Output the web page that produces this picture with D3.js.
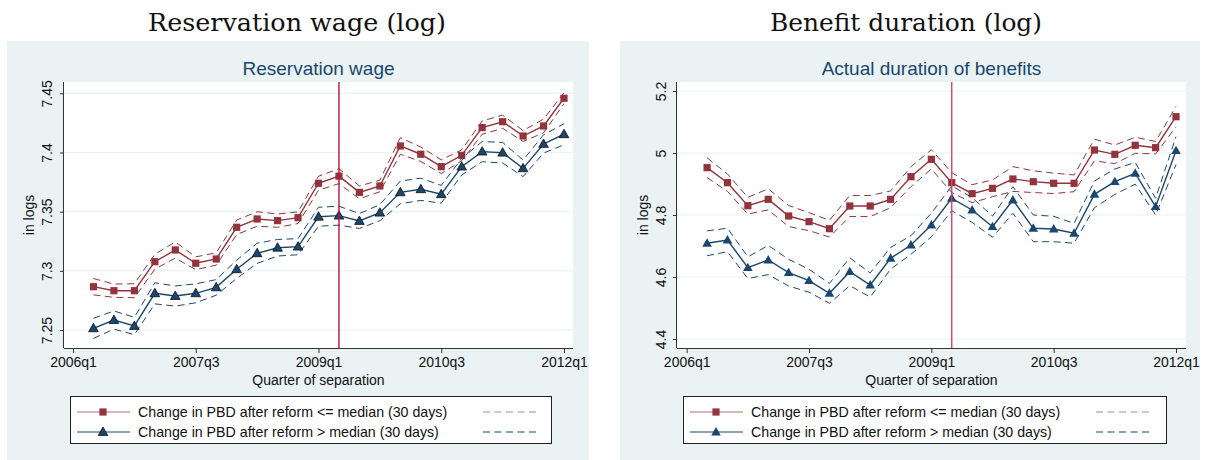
<!DOCTYPE html>
<html>
<head>
<meta charset="utf-8">
<script src="https://cdn.jsdelivr.net/npm/d3@7"></script>
<style>
  body { margin: 0; background: #fff; }
  svg { display: block; }
  text { font-family: "Liberation Sans", Arial, sans-serif; }
</style>
</head>
<body>
<svg id="chart" width="1207" height="460"></svg>
<script>
// quarters of separation (one point each)
const quarters = ["2006q2", "2006q3", "2006q4", "2007q1", "2007q2", "2007q3", "2007q4", "2008q1",
    "2008q2", "2008q3", "2008q4", "2009q1", "2009q2", "2009q3", "2009q4", "2010q1",
    "2010q2", "2010q3", "2010q4", "2011q1", "2011q2", "2011q3", "2011q4", "2012q1"];
const xTickLabels = ["2006q1", "2007q3", "2009q1", "2010q3", "2012q1"];
const reformQuarter = "2009q2";

const legendLabels = ["Change in PBD after reform <= median (30 days)", "Change in PBD after reform > median (30 days)"];

// Reservation wage (log)
const wageLow = [7.2866, 7.2832, 7.2832, 7.3077, 7.3176, 7.3064, 7.3100, 7.3368, 7.3438, 7.3424, 7.3449, 7.3740,
    7.3800, 7.3663, 7.3717, 7.4055, 7.3985, 7.3880, 7.3976, 7.4210, 7.4260, 7.4139, 7.4224, 7.4458];
const wageLowCI = [0.0069, 0.0056, 0.0059, 0.0063, 0.0068, 0.0054, 0.0052, 0.0061, 0.0061, 0.0056, 0.0049, 0.0059,
    0.0063, 0.0054, 0.0049, 0.0070, 0.0061, 0.0058, 0.0046, 0.0056, 0.0056, 0.0046, 0.0058, 0.0046];
const wageHigh = [7.2514, 7.2584, 7.2534, 7.2810, 7.2787, 7.2810, 7.2860, 7.3013, 7.3148, 7.3195, 7.3204, 7.3457,
    7.3466, 7.3421, 7.3491, 7.3663, 7.3689, 7.3647, 7.3880, 7.4007, 7.3998, 7.3866, 7.4072, 7.4154];
const wageHighCI = [0.0085, 0.0077, 0.0073, 0.0089, 0.0085, 0.0080, 0.0066, 0.0077, 0.0085, 0.0070, 0.0068, 0.0080,
    0.0080, 0.0063, 0.0068, 0.0096, 0.0094, 0.0075, 0.0070, 0.0085, 0.0087, 0.0070, 0.0077, 0.0089];
const wageTicks = [7.25, 7.3, 7.35, 7.4, 7.45];

// Benefit duration (log)
const durLow = [4.9527, 4.9043, 4.8300, 4.8505, 4.7968, 4.7785, 4.7559, 4.8290, 4.8290, 4.8505, 4.9236, 4.9796,
    4.9043, 4.8688, 4.8860, 4.9161, 4.9075, 4.9022, 4.9022, 5.0097, 4.9957, 5.0248, 5.0172, 5.1171];
const durLowCI = [0.032, 0.028, 0.027, 0.034, 0.034, 0.029, 0.027, 0.034, 0.034, 0.027, 0.032, 0.031,
    0.032, 0.029, 0.027, 0.040, 0.035, 0.033, 0.027, 0.035, 0.030, 0.026, 0.020, 0.033];
const durHigh = [4.7087, 4.7194, 4.6300, 4.6548, 4.6139, 4.5880, 4.5473, 4.6171, 4.5742, 4.6603, 4.7032, 4.7677,
    4.8538, 4.8161, 4.7623, 4.8484, 4.7571, 4.7548, 4.7410, 4.8667, 4.9075, 4.9344, 4.8269, 5.0075];
const durHighCI = [0.040, 0.038, 0.035, 0.047, 0.043, 0.037, 0.032, 0.045, 0.039, 0.035, 0.030, 0.038,
    0.040, 0.040, 0.034, 0.043, 0.043, 0.041, 0.032, 0.043, 0.041, 0.035, 0.027, 0.045];
const durTicks = [4.4, 4.6, 4.8, 5, 5.2];

const RED = "#93343c", BLUE = "#1a476f", BG = "#eaf2f3";

// quarter label -> number of quarters since 2006q1
function qIndex(s) {
    return (+s.slice(0, 4) - 2006) * 4 + (+s.slice(5) - 1);
}

const svg = d3.select("#chart");

function drawPanel(p) {
    const g = svg.append("g");

    // big serif heading
    g.append("text")
        .attr("x", p.titleX).attr("y", 31)
        .attr("text-anchor", "middle")
        .style("font-family", "'DejaVu Serif', 'Liberation Serif', serif")
        .style("font-size", "25px")
        .attr("textLength", p.titleLen).attr("lengthAdjust", "spacingAndGlyphs")
        .attr("fill", "#111")
        .text(p.title);

    g.append("rect")
        .attr("x", p.bg[0]).attr("y", p.bg[1]).attr("width", p.bg[2]).attr("height", p.bg[3])
        .attr("fill", BG);

    g.append("rect")
        .attr("x", p.plot.x0).attr("y", p.plot.y0)
        .attr("width", p.plot.x1 - p.plot.x0).attr("height", p.plot.y1 - p.plot.y0)
        .attr("fill", "#fff");

    const x = d3.scaleLinear().domain([0, 24]).range(p.xr);
    const y = d3.scaleLinear().domain(p.ydom).range(p.yr);

    // grid lines
    g.append("g").selectAll("line")
        .data(p.yticks)
        .join("line")
        .attr("x1", p.plot.x0).attr("x2", p.plot.x1)
        .attr("y1", d => y(d)).attr("y2", d => y(d))
        .attr("stroke", BG).attr("stroke-width", 1.2);

    // subtitle
    g.append("text")
        .attr("x", (p.plot.x0 + p.plot.x1) / 2).attr("y", 75)
        .attr("text-anchor", "middle")
        .style("font-size", "19px")
        .attr("fill", BLUE)
        .text(p.subtitle);

    // x axis
    const xAxis = d3.axisBottom(x)
        .tickValues(xTickLabels.map(qIndex))
        .tickFormat((d, i) => xTickLabels[i])
        .tickSize(5).tickSizeOuter(0);
    const gx = g.append("g")
        .attr("transform", "translate(0," + p.plot.y1 + ")")
        .call(xAxis);
    gx.select(".domain").attr("d", "M" + p.plot.x0 + ",0.5H" + p.plot.x1).attr("stroke", "#333");
    gx.selectAll(".tick line").attr("stroke", "#333");
    gx.selectAll(".tick text")
        .attr("y", 9).attr("dy", "0.71em")
        .style("font-size", "14px").attr("fill", "#111");

    g.append("text")
        .attr("x", (p.plot.x0 + p.plot.x1) / 2).attr("y", 385)
        .attr("text-anchor", "middle")
        .style("font-size", "14px").attr("fill", "#111")
        .text("Quarter of separation");

    // y axis
    const yAxis = d3.axisLeft(y)
        .tickValues(p.yticks)
        .tickFormat(d => String(+d.toFixed(2)))
        .tickSize(4).tickSizeOuter(0);
    const gy = g.append("g")
        .attr("transform", "translate(" + p.plot.x0 + ",0)")
        .call(yAxis);
    gy.select(".domain").attr("d", "M-0.5," + p.plot.y1 + "V" + p.plot.y0).attr("stroke", "#333");
    gy.selectAll(".tick line").attr("stroke", "#333");
    gy.selectAll(".tick text")
        .attr("transform", "rotate(-90)")
        .attr("x", 0).attr("y", -p.yLabelOff).attr("dy", 0)
        .attr("text-anchor", "middle")
        .style("font-size", "14px").attr("fill", "#111");

    g.append("text")
        .attr("transform", "translate(" + (p.plot.x0 - p.yTitleOff) + "," + ((p.plot.y0 + p.plot.y1) / 2) + ") rotate(-90)")
        .attr("text-anchor", "middle")
        .style("font-size", "14px").attr("fill", "#111")
        .text("in logs");

    const line = d3.line().x(d => x(d[0])).y(d => y(d[1]));

    function series(vals, ci, color, marker) {
        const qs = quarters.map(qIndex);
        [1, -1].forEach(s => {
            g.append("path")
                .datum(qs.map((q, i) => [q, vals[i] + s * ci[i]]))
                .attr("fill", "none").attr("stroke", color)
                .attr("stroke-width", 1).attr("stroke-dasharray", "7,4.5")
                .attr("d", line);
        });
        g.append("path")
            .datum(qs.map((q, i) => [q, vals[i]]))
            .attr("fill", "none").attr("stroke", color)
            .attr("stroke-width", 1.4)
            .attr("d", line);
        g.append("g").selectAll("path")
            .data(qs.map((q, i) => [q, vals[i]]))
            .join("path")
            .attr("transform", d => "translate(" + x(d[0]) + "," + y(d[1]) + ")")
            .attr("d", marker)
            .attr("fill", color)
            .attr("stroke", marker === TRI && p.triOutline ? "#111" : "none")
            .attr("stroke-width", 0.8);
    }

    series(p.low, p.lowCI, RED, SQ);
    series(p.high, p.highCI, BLUE, TRI);

    // reform line
    const xr = x(qIndex(reformQuarter));
    g.append("line")
        .attr("x1", xr).attr("x2", xr)
        .attr("y1", p.plot.y0).attr("y2", p.plot.y1)
        .attr("stroke", p.vColor).attr("stroke-width", 1.4);

    // legend
    const L = p.legend;
    g.append("rect")
        .attr("x", L.x + 0.5).attr("y", 396.5).attr("width", L.w).attr("height", 47)
        .attr("fill", "#fff").attr("stroke", "#222").attr("stroke-width", 1);
    [[RED, SQ, 412], [BLUE, TRI, 432]].forEach((r, i) => {
        g.append("line")
            .attr("x1", L.x + 7).attr("x2", L.x + 60)
            .attr("y1", r[2]).attr("y2", r[2])
            .attr("stroke", r[0]).attr("stroke-width", 1.2).attr("stroke-opacity", i === 0 ? 0.7 : 1);
        g.append("path")
            .attr("transform", "translate(" + (L.x + 33) + "," + r[2] + ")")
            .attr("d", r[1])
            .attr("fill", r[0])
            .attr("stroke", r[1] === TRI && p.triOutline ? "#111" : "none")
            .attr("stroke-width", 0.8);
        g.append("text")
            .attr("x", L.x + 68).attr("y", r[2] + 5)
            .style("font-size", "14.2px").attr("fill", "#111")
            .text(legendLabels[i]);
        g.append("line")
            .attr("x1", L.x + 413).attr("x2", L.x + 468)
            .attr("y1", r[2]).attr("y2", r[2])
            .attr("stroke", r[0]).attr("stroke-width", 1)
            .attr("stroke-opacity", i === 0 ? 0.6 : 1)
            .attr("stroke-dasharray", "7,4.5");
    });
}

const SQ = "M-3.6,-3.6H3.6V3.6H-3.6Z";
const TRI = "M0,-5L4.8,3.4H-4.8Z";

drawPanel({
    title: "Reservation wage (log)", titleX: 297, titleLen: 298,
    subtitle: "Reservation wage",
    bg: [7, 41, 582, 419],
    plot: { x0: 64, x1: 573, y0: 82, y1: 348 },
    xr: [73, 564], ydom: [7.25, 7.45], yr: [330, 93.3], yticks: wageTicks,
    yLabelOff: 12, yTitleOff: 30,
    low: wageLow, lowCI: wageLowCI, high: wageHigh, highCI: wageHighCI,
    vColor: "#b8123c", triOutline: true,
    legend: { x: 70, w: 481 }
});

drawPanel({
    title: "Benefit duration (log)", titleX: 906, titleLen: 272,
    subtitle: "Actual duration of benefits",
    bg: [620, 41, 580, 419],
    plot: { x0: 677, x1: 1186, y0: 82, y1: 348 },
    xr: [686.7, 1176], ydom: [4.4, 5.2], yr: [339, 91], yticks: durTicks,
    yLabelOff: 11, yTitleOff: 29,
    low: durLow, lowCI: durLowCI, high: durHigh, highCI: durHighCI,
    vColor: "#d8436b", triOutline: false,
    legend: { x: 683, w: 483 }
});
</script>
</body>
</html>
